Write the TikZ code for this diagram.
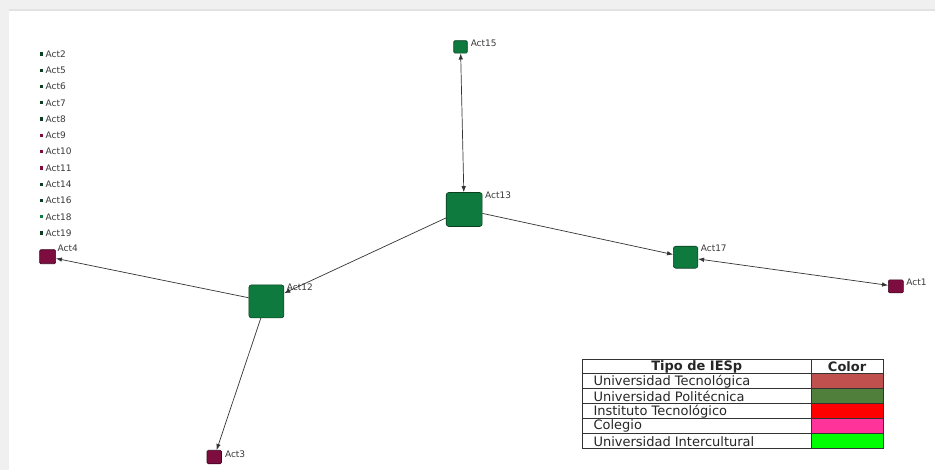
\documentclass[tikz,border=0pt]{standalone}
\usepackage{fontspec}
\setmainfont{DejaVu Sans}
\usetikzlibrary{arrows.meta}

\definecolor{panelgray}{HTML}{F0F0F0}
\definecolor{panelline}{HTML}{E2E2E2}
\definecolor{actgreen}{HTML}{0E7A3D}
\definecolor{actgreendk}{HTML}{0A3F21}
\definecolor{actmaroon}{HTML}{7D0C3F}
\definecolor{actmaroondk}{HTML}{3E0620}
\definecolor{edgegray}{HTML}{333333}
\definecolor{lblgray}{HTML}{3A3A3A}
\definecolor{legA}{HTML}{C0504D}
\definecolor{legB}{HTML}{4F7F3B}
\definecolor{legC}{HTML}{FF0000}
\definecolor{legD}{HTML}{FF3399}
\definecolor{legE}{HTML}{00FF00}

\begin{document}
\begin{tikzpicture}[x=1pt, y=-1pt,
    act/.style={rectangle, rounded corners=2.5pt, draw, line width=0.6pt, inner sep=0pt},
    gnode/.style={act, fill=actgreen, draw=actgreendk},
    mnode/.style={act, fill=actmaroon, draw=actmaroondk},
    small/.style={rounded corners=1.2pt},
    lbl/.style={anchor=west, inner sep=0pt, text=lblgray, font=\fontsize{9}{10}\selectfont},
    edge/.style={draw=edgegray, line width=0.7pt, >={Latex[length=6pt,width=4.5pt]}},
    legtxt/.style={inner sep=0pt, text=black!85, font=\fontsize{13}{15}\selectfont}]

    % panel
    \fill[panelgray] (0,0) rectangle (936,470);
    \fill[white] (9,11) rectangle (936,470);
    \draw[panelline, line width=2pt] (9,10) -- (936,10);
    \useasboundingbox (0,0) rectangle (936,470);

    % isolated actors
    \foreach \name/\col [count=\i] in {Act2/actgreendk, Act5/actgreendk, Act6/actgreendk,
        Act7/actgreendk, Act8/actgreendk, Act9/actmaroon, Act10/actmaroon, Act11/actmaroon,
        Act14/actgreendk, Act16/actgreendk, Act18/actgreen, Act19/actgreendk} {
        \node[rectangle, fill=\col, inner sep=0pt, minimum size=3.2pt] (d\i) at (41.7, 37.7+16.3*\i) {};
        \node[lbl] (dl\i) at ([shift={(2,0)}]d\i.east) {\name};
    }

    % connected actors
    \node[gnode, minimum width=36, minimum height=34] (a13) at (464.7,209.7) {};
    \node[lbl] (l13) at ([shift={(2.5,3)}]a13.north east) {Act13};
    \node[gnode, minimum width=35, minimum height=33] (a12) at (266.7,301.7) {};
    \node[lbl] (l12) at ([shift={(2.5,3)}]a12.north east) {Act12};
    \node[gnode, minimum width=24.5, minimum height=22] (a17) at (686.3,257.5) {};
    \node[lbl] (l17) at ([shift={(2.5,2.5)}]a17.north east) {Act17};
    \node[gnode, small, minimum width=13.5, minimum height=12.5] (a15) at (461,47) {};
    \node[lbl] (l15) at ([shift={(3,2.5)}]a15.north east) {Act15};
    \node[mnode, small, minimum width=15, minimum height=13] (a1) at (896.8,286.7) {};
    \node[lbl] (l1) at ([shift={(2.5,3)}]a1.north east) {Act1};
    \node[mnode, small, minimum width=16, minimum height=14] (a4) at (47.7,257) {};
    \node[lbl] (l4) at ([shift={(1.5,-1)}]a4.north east) {Act4};
    \node[mnode, small, minimum width=14.5, minimum height=13.5] (a3) at (214.5,457.5) {};
    \node[lbl] (l3) at ([shift={(3,4)}]a3.north east) {Act3};

    % ties
    \draw[edge, <->] (a15) -- (a13);
    \draw[edge, ->] (a13) -- (a17);
    \draw[edge, <->] (a17) -- (a1);
    \draw[edge, ->] (a13) -- (a12);
    \draw[edge, ->] (a12) -- (a4);
    \draw[edge, ->] (a12) -- (a3);

    % legend
    \fill[white] (583,360) rectangle (884,449.3);
    \foreach \txt/\col [count=\i] in {Universidad Tecnológica/legA, Universidad Politécnica/legB,
        Instituto Tecnológico/legC, Colegio/legD, Universidad Intercultural/legE} {
        \fill[\col] (813,359.6+15*\i) rectangle (883.5,373.6+15*\i);
        \node[legtxt, anchor=west] (r\i) at (594,366.8+15*\i) {\txt};
        \draw[edgegray, line width=0.8pt] (583,359+15*\i) -- (884,359+15*\i);
    }
    \draw[edgegray, line width=0.9pt] (583,360) rectangle (884,449.3);
    \draw[edgegray, line width=0.8pt] (812,360) -- (812,449.3);
    \node[legtxt, font=\fontsize{13}{15}\selectfont\bfseries] (h1) at (697.5,367) {Tipo de IESp};
    \node[legtxt, font=\fontsize{13}{15}\selectfont\bfseries] (h2) at (848,367) {Color};
\end{tikzpicture}
\end{document}
